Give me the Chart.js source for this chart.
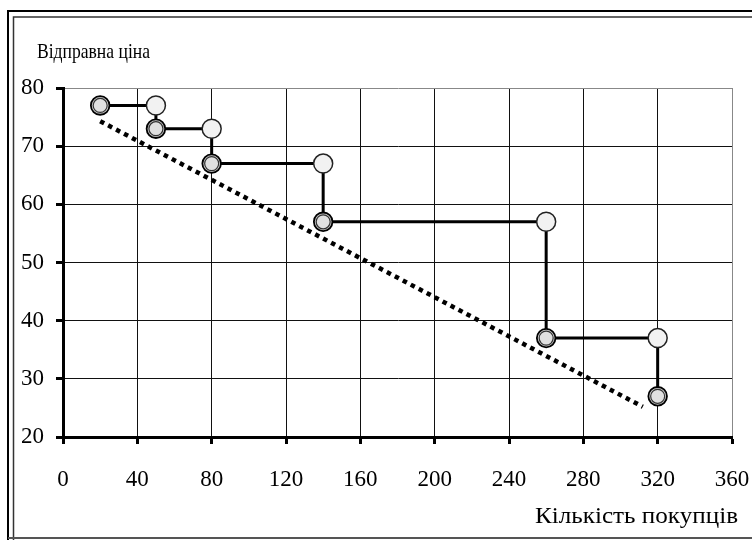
<!DOCTYPE html>
<html>
<head>
<meta charset="utf-8">
<script src="https://cdn.jsdelivr.net/npm/chart.js@4.4.1/dist/chart.umd.min.js"></script>
<style>
  html, body { margin: 0; padding: 0; background: #fff; }
</style>
</head>
<body>
<canvas id="chart" width="752" height="540"></canvas>
<script>
// --- дані ---
const buyers = [20, 50, 80, 140, 260, 320];   // кількість покупців
const prices = [77, 73, 67, 57, 37, 27];      // відправна ціна
const trendX = [20, 312];                     // пунктирна лінія тренду
const trendY = [74.3, 25.2];
const xTicks = [0, 40, 80, 120, 160, 200, 240, 280, 320, 360];
const yTicks = [20, 30, 40, 50, 60, 70, 80];
const yTitle = 'Відправна ціна';
const xTitle = 'Кількість покупців';

// сходинкова лінія і кутові точки
const stepLine = [];
const cornerPts = [];
buyers.forEach((b, i) => {
    stepLine.push({ x: b, y: prices[i] });
    if (i < buyers.length - 1) {
        stepLine.push({ x: buyers[i + 1], y: prices[i] });
        cornerPts.push({ x: buyers[i + 1], y: prices[i] });
    }
});
const mainPts = buyers.map((b, i) => ({ x: b, y: prices[i] }));
const trendPts = trendX.map((x, i) => ({ x: x, y: trendY[i] }));

const FONT = 'Liberation Serif';

// текст, стиснутий/розтягнутий по горизонталі до потрібної ширини
function drawText(ctx, text, x, y, width, align) {
    const w = ctx.measureText(text).width;
    const k = width / w;
    ctx.save();
    ctx.translate(x, y);
    ctx.scale(k, 1);
    ctx.textAlign = align;
    ctx.fillText(text, 0, 0);
    ctx.restore();
}

// рамка і підписи осей
const framePlugin = {
    id: 'frame',
    beforeDraw(chart) {
        const ctx = chart.ctx;
        ctx.save();
        ctx.fillStyle = '#fff';
        ctx.fillRect(0, 0, 752, 540);
        ctx.strokeStyle = '#000';
        ctx.lineWidth = 2;
        ctx.beginPath();
        ctx.moveTo(8, 540); ctx.lineTo(8, 11); ctx.lineTo(752, 11);
        ctx.stroke();
        ctx.strokeStyle = '#333';
        ctx.lineWidth = 1.5;
        ctx.beginPath();
        ctx.moveTo(13.5, 540); ctx.lineTo(13.5, 17); ctx.lineTo(752, 17);
        ctx.stroke();
        ctx.strokeStyle = '#555';
        ctx.lineWidth = 2;
        ctx.beginPath();
        ctx.moveTo(8, 538); ctx.lineTo(752, 538);
        ctx.stroke();
        ctx.restore();
    },
    afterDraw(chart) {
        const ctx = chart.ctx;
        ctx.save();
        ctx.fillStyle = '#000';
        ctx.textBaseline = 'alphabetic';
        ctx.font = '22px "' + FONT + '"';
        drawText(ctx, yTitle, 37, 58, 113, 'left');
        ctx.font = '23px "' + FONT + '"';
        drawText(ctx, xTitle, 738, 523, 203, 'right');
        ctx.restore();
    }
};

const gridColor = (max) => (c) => (c.tick && c.tick.value === max ? '#888' : '#111');

new Chart(document.getElementById('chart'), {
    type: 'scatter',
    data: {
        datasets: [
            {   // внутрішнє кільце темних точок
                data: mainPts,
                showLine: false,
                pointRadius: 7,
                pointBorderWidth: 1.2,
                pointBorderColor: '#333',
                pointBackgroundColor: '#e0e0e0',
                order: 0
            },
            {   // зовнішнє кільце темних точок
                data: mainPts,
                showLine: false,
                pointRadius: 9.3,
                pointBorderWidth: 1.8,
                pointBorderColor: '#000',
                pointBackgroundColor: '#cfcfcf',
                order: 1
            },
            {
                data: cornerPts,
                showLine: false,
                pointRadius: 9.5,
                pointBorderWidth: 1.5,
                pointBorderColor: '#222',
                pointBackgroundColor: '#f2f2f2',
                order: 2
            },
            {
                data: trendPts,
                showLine: true,
                borderColor: '#000',
                borderWidth: 4.5,
                borderDash: [4.5, 4.5],
                pointRadius: 0,
                order: 3
            },
            {
                data: stepLine,
                showLine: true,
                borderColor: '#000',
                borderWidth: 3,
                pointRadius: 0,
                order: 4
            }
        ]
    },
    options: {
        responsive: false,
        animation: false,
        events: [],
        layout: { padding: { top: 88, right: 20, left: 0, bottom: 0 } },
        plugins: {
            legend: { display: false },
            tooltip: { enabled: false }
        },
        scales: {
            x: {
                type: 'linear',
                min: xTicks[0],
                max: xTicks[xTicks.length - 1],
                afterBuildTicks: (s) => { s.ticks = xTicks.map(v => ({ value: v })); },
                afterFit: (s) => { s.height = 103; s.paddingLeft = 0; s.paddingRight = 0; },
                grid: {
                    color: gridColor(360),
                    lineWidth: 1,
                    tickLength: 7,
                    tickWidth: 3,
                    tickColor: '#000'
                },
                border: { display: true, color: '#000', width: 3 },
                ticks: {
                    color: '#000',
                    padding: 22,
                    font: { family: FONT, size: 23 }
                }
            },
            y: {
                type: 'linear',
                min: yTicks[0],
                max: yTicks[yTicks.length - 1],
                afterBuildTicks: (s) => { s.ticks = yTicks.map(v => ({ value: v })); },
                afterFit: (s) => { s.width = 63; s.paddingTop = 0; s.paddingBottom = 0; },
                grid: {
                    color: gridColor(80),
                    lineWidth: 1,
                    tickLength: 7,
                    tickWidth: 3,
                    tickColor: '#000'
                },
                border: { display: true, color: '#000', width: 3 },
                ticks: {
                    color: '#000',
                    padding: 12,
                    font: { family: FONT, size: 23 }
                }
            }
        }
    },
    plugins: [framePlugin]
});
</script>
</body>
</html>
